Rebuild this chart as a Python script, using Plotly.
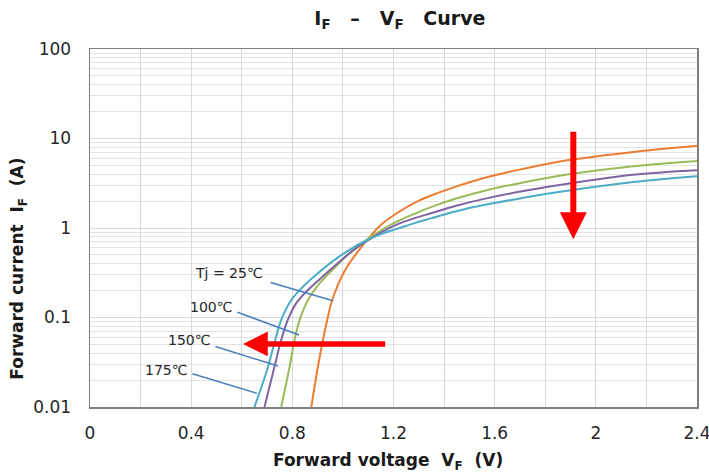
import numpy as np
import plotly.graph_objects as go

# ---- data ----
vf_25 = [0.875, 0.901, 0.921, 0.938, 0.954, 0.981, 1.014, 1.054, 1.10, 1.153, 1.219, 1.285, 1.351, 1.444, 1.576, 1.708, 1.894, 2.158, 2.40]
if_25 = [0.010, 0.028, 0.056, 0.094, 0.145, 0.235, 0.36, 0.52, 0.76, 1.10, 1.50, 1.92, 2.32, 2.88, 3.74, 4.55, 5.74, 7.13, 8.3]

vf_100 = [0.756, 0.789, 0.809, 0.829, 0.862, 0.908, 0.967, 1.025, 1.10, 1.153, 1.219, 1.285, 1.351, 1.444, 1.576, 1.708, 1.894, 2.158, 2.40]
if_100 = [0.010, 0.028, 0.056, 0.094, 0.157, 0.24, 0.36, 0.52, 0.76, 0.95, 1.20, 1.45, 1.72, 2.12, 2.68, 3.21, 3.98, 4.93, 5.61]

vf_150 = [0.690, 0.729, 0.756, 0.782, 0.815, 0.862, 0.928, 0.994, 1.054, 1.10, 1.153, 1.219, 1.285, 1.351, 1.444, 1.576, 1.708, 1.894, 2.158, 2.40]
if_150 = [0.010, 0.028, 0.056, 0.094, 0.144, 0.203, 0.30, 0.44, 0.60, 0.73, 0.90, 1.11, 1.29, 1.47, 1.76, 2.17, 2.57, 3.14, 3.96, 4.42]

vf_175 = [0.650, 0.696, 0.729, 0.756, 0.796, 0.842, 0.901, 0.967, 1.047, 1.10, 1.153, 1.219, 1.285, 1.351, 1.444, 1.576, 1.708, 1.894, 2.158, 2.40]
if_175 = [0.010, 0.0238, 0.0515, 0.0938, 0.157, 0.221, 0.312, 0.44, 0.62, 0.74, 0.86, 0.99, 1.14, 1.29, 1.53, 1.85, 2.16, 2.62, 3.28, 3.78]

x_tickvals = [0, 0.2, 0.4, 0.6, 0.8, 1.0, 1.2, 1.4, 1.6, 1.8, 2.0, 2.2, 2.4]
x_ticktext = ["0", "", "0.4", "", "0.8", "", "1.2", "", "1.6", "", "2", "", "2.4"]
y_tickvals = [0.01, 0.1, 1, 10, 100]
y_ticktext = ["0.01", "0.1", "1", "10", "100"]

labels = ["Tj = 25℃", "100℃", "150℃", "175℃"]
label_pos = [(0.55, 0.314), (0.478, 0.132), (0.391, 0.056), (0.30, 0.0259)]
leader_start = [(0.708, 0.249), (0.577, 0.116), (0.49, 0.048), (0.399, 0.0238)]
leader_end = [(0.961, 0.154), (0.827, 0.0637), (0.743, 0.0287), (0.66, 0.0142)]

series = [
    (vf_25, if_25, "#ED7D31"),
    (vf_100, if_100, "#9BBB59"),
    (vf_150, if_150, "#8064A2"),
    (vf_175, if_175, "#4BACC6"),
]

fig = go.Figure()
for vx, iy, col in series:
    fig.add_trace(go.Scatter(x=vx, y=iy, mode="lines",
                             line=dict(color=col, width=2, shape="spline", smoothing=1.0),
                             showlegend=False, hoverinfo="skip"))

font_main = "DejaVu Sans, Verdana, sans-serif"
annotations = []
for txt, (lx, ly) in zip(labels, label_pos):
    annotations.append(dict(x=lx, y=np.log10(ly), xref="x", yref="y", text=txt,
                            showarrow=False, font=dict(size=14, color="#262626", family=font_main)))
for (sx, sy), (ex, ey) in zip(leader_start, leader_end):
    annotations.append(dict(x=ex, y=np.log10(ey), ax=sx, ay=np.log10(sy), xref="x", yref="y",
                            axref="x", ayref="y", text="", showarrow=True, arrowhead=0,
                            arrowwidth=1.5, arrowcolor="#4A7EBB", standoff=0, startstandoff=0))
# red arrows
annotations.append(dict(x=1.911, y=np.log10(0.75), ax=1.911, ay=np.log10(12.4), xref="x", yref="y",
                        axref="x", ayref="y", text="", showarrow=True, arrowhead=2, arrowsize=0.9,
                        arrowwidth=6, arrowcolor="#FF0000", standoff=0, startstandoff=0))
annotations.append(dict(x=0.605, y=np.log10(0.0506), ax=1.173, ay=np.log10(0.0506), xref="x", yref="y",
                        axref="x", ayref="y", text="", showarrow=True, arrowhead=2, arrowsize=0.9,
                        arrowwidth=5.5, arrowcolor="#FF0000", standoff=0, startstandoff=0))
# axis titles
annotations.append(dict(x=-0.1177, y=0.385, xref="paper", yref="paper", textangle=-90,
                        xanchor="center", yanchor="middle",
                        text="<b>Forward current  I<sub>F</sub>  (A)</b>", showarrow=False,
                        font=dict(size=17, color="#1a1a1a", family=font_main)))
annotations.append(dict(x=0.491, y=-0.151, xref="paper", yref="paper",
                        xanchor="center", yanchor="middle",
                        text="<b>Forward voltage  V<sub>F</sub>  (V)</b>", showarrow=False,
                        font=dict(size=17, color="#1a1a1a", family=font_main)))

fig.update_layout(
    width=709, height=473,
    margin=dict(l=89.5, r=12, t=49, b=66),
    paper_bgcolor="white", plot_bgcolor="white",
    title=dict(text="<b>I<sub>F</sub>  &nbsp;–&nbsp;  V<sub>F</sub>  &nbsp;Curve</b>", x=0.564, xanchor="center",
               y=0.962, yanchor="middle", font=dict(size=19, color="#1a1a1a", family=font_main)),
    annotations=annotations,
    font=dict(family=font_main, color="#262626", size=16),
)
fig.update_xaxes(range=[0, 2.4], tickvals=x_tickvals, ticktext=x_ticktext, automargin=False,
                 showgrid=True, gridcolor="#d9d9d9", gridwidth=1,
                 showline=True, linecolor="#808080", linewidth=1.5, mirror=True,
                 ticks="", zeroline=False, tickfont=dict(size=17, color="#262626"),
                 ticklabelstandoff=10, ticklabeloverflow="allow")
fig.update_yaxes(type="log", range=[-2, 2], tickvals=y_tickvals, ticktext=y_ticktext, automargin=False,
                 showgrid=True, gridcolor="#d9d9d9", gridwidth=1,
                 minor=dict(dtick="D1", showgrid=True, gridcolor="#e3e3e3", gridwidth=1, ticks=""),
                 showline=True, linecolor="#808080", linewidth=1.5, mirror=True,
                 ticks="", zeroline=False, tickfont=dict(size=17, color="#262626"),
                 ticklabelstandoff=14, ticklabeloverflow="allow")

fig.write_html("out.html", config={"displayModeBar": False, "staticPlot": True},
               post_script="document.body.style.margin='0';document.body.style.overflow='hidden';")
